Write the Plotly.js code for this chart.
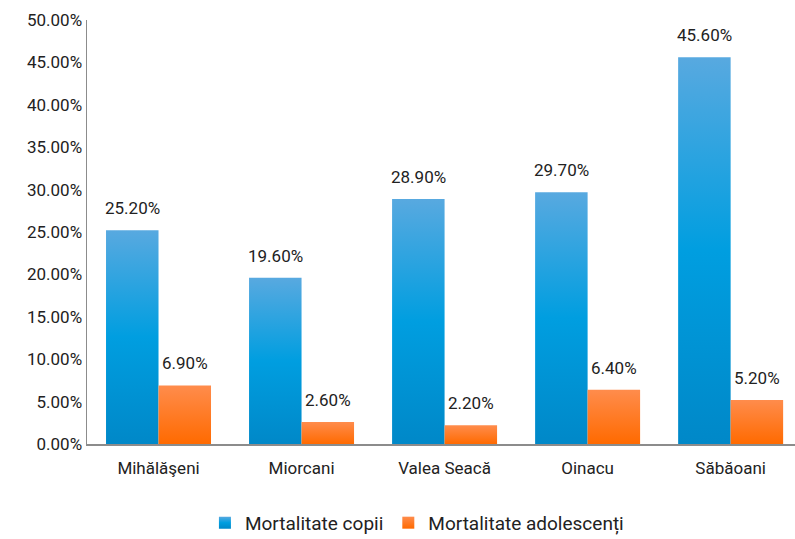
<!DOCTYPE html>
<html>
<head>
<meta charset="utf-8">
<script src="https://cdn.plot.ly/plotly-3.0.1.min.js"></script>
<style>html,body{margin:0;padding:0;background:#fff;overflow:hidden;}</style>
</head>
<body>
<div id="chart" style="width:795px;height:539px;"></div>
<script>
const categories = ["Mihălăşeni", "Miorcani", "Valea Seacă", "Oinacu", "Săbăoani"];
const copii = [25.2, 19.6, 28.9, 29.7, 45.6];
const adolescenti = [6.9, 2.6, 2.2, 6.4, 5.2];
const seriesNames = ["Mortalitate copii", "Mortalitate adolescenți"];
const yTicks = [0, 5, 10, 15, 20, 25, 30, 35, 40, 45, 50];

const fmt = v => v.toFixed(2) + "%";
const font = {family: "Roboto, 'DejaVu Sans', sans-serif", size: 17, color: "#222"};
const xs = categories.map((c, i) => i);

const data = [
  {type: "bar", name: seriesNames[0], x: xs, y: copii,
   marker: {color: "#0a9ae0"}, hoverinfo: "skip"},
  {type: "bar", name: seriesNames[1], x: xs, y: adolescenti,
   marker: {color: "#ff7a22"}, hoverinfo: "skip"}
];

const annotations = [];
[copii, adolescenti].forEach((vals, s) => {
  vals.forEach((v, i) => {
    annotations.push({x: i, y: v, xref: "x", yref: "y", text: fmt(v), showarrow: false,
      xanchor: "center", yanchor: "bottom", xshift: s === 0 ? -26 : 26, yshift: 10,
      font: font});
  });
});

const layout = {
  width: 795, height: 539,
  margin: {l: 87, r: 0, t: 20, b: 95},
  paper_bgcolor: "#fff", plot_bgcolor: "#fff",
  font: font,
  barmode: "group", bargap: 0.266, bargroupgap: 0,
  showlegend: true,
  annotations: annotations,
  legend: {orientation: "h", x: 0.466, xanchor: "center", xref: "paper", y: 0.03, yanchor: "middle", yref: "container",
           font: {family: font.family, size: 19, color: "#222"}, itemwidth: 30, traceorder: "normal"},
  xaxis: {range: [-0.5, 4.45], tickmode: "array", tickvals: xs, ticktext: categories,
          showgrid: false, zeroline: false, showline: true, linecolor: "#8c8c8c", linewidth: 1.5,
          ticks: "", tickfont: font, fixedrange: true, ticklabelstandoff: 8, automargin: false},
  yaxis: {range: [0, 50], tickmode: "array", tickvals: yTicks, ticktext: yTicks.map(fmt),
          showgrid: false, zeroline: false, showline: true, linecolor: "#8c8c8c", linewidth: 1.5,
          ticks: "", tickfont: font, fixedrange: true, automargin: false}
};

function applyGradients() {
  const svg = document.querySelector("#chart svg.main-svg");
  if (!svg) return;
  const ns = "http://www.w3.org/2000/svg";
  let defs = svg.querySelector("defs");
  if (!defs) { defs = document.createElementNS(ns, "defs"); svg.insertBefore(defs, svg.firstChild); }
  function grad(id, stops) {
    const g = document.createElementNS(ns, "linearGradient");
    g.setAttribute("id", id); g.setAttribute("x1", "0"); g.setAttribute("y1", "0");
    g.setAttribute("x2", "0"); g.setAttribute("y2", "1");
    stops.forEach(s => {
      const st = document.createElementNS(ns, "stop");
      st.setAttribute("offset", s[0]); st.setAttribute("stop-color", s[1]);
      g.appendChild(st);
    });
    defs.appendChild(g);
  }
  grad("gBlue", [["0", "#58a9e0"], ["0.5", "#009ee0"], ["1", "#0088c8"]]);
  grad("gOrange", [["0", "#ff8c4c"], ["1", "#ff6a00"]]);
  const traces = document.querySelectorAll("#chart .barlayer .trace");
  const ids = ["gBlue", "gOrange"];
  traces.forEach((t, i) => {
    t.querySelectorAll("path").forEach(p => { p.style.fill = "url(#" + ids[i] + ")"; });
  });
  const leg = document.querySelectorAll("#chart .legend .traces");
  leg.forEach((t, i) => {
    t.querySelectorAll(".legendpoints path").forEach(p => { p.style.fill = "url(#" + ids[i] + ")"; });
  });
}

Plotly.newPlot("chart", data, layout, {displayModeBar: false, staticPlot: true}).then(applyGradients);
</script>
</body>
</html>
